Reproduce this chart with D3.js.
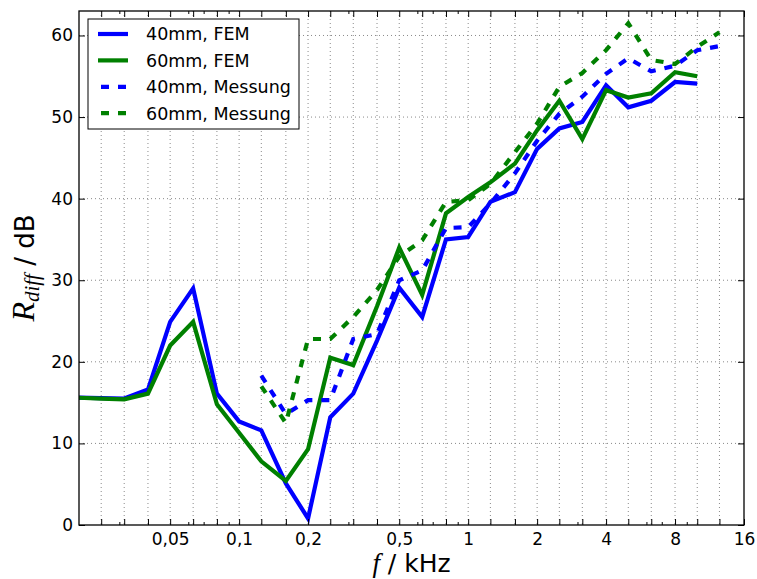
<!DOCTYPE html>
<html>
<head>
<meta charset="utf-8">
<script src="https://cdn.jsdelivr.net/npm/d3@7/dist/d3.min.js"></script>
<style>
  html, body { margin: 0; padding: 0; background: #fff; }
  svg { display: block; }
</style>
</head>
<body>
<svg id="chart" width="757" height="579"></svg>
<script>
// Third-octave band centre frequencies (kHz)
const freqs = [0.02, 0.025, 0.0315, 0.04, 0.05, 0.063, 0.08, 0.1, 0.125, 0.16, 0.2, 0.25, 0.315, 0.4, 0.5, 0.63, 0.8, 1, 1.25, 1.6, 2, 2.5, 3.15, 4, 5, 6.3, 8, 10, 12.5, 16];

// FEM results (0.02 ... 10 kHz)
const fem40 = [15.6, 15.55, 15.5, 16.6, 24.9, 29.0, 16.1, 12.7, 11.6, 5.1, 0.8, 13.2, 16.1, 22.6, 29.1, 25.5, 35.0, 35.3, 39.6, 40.8, 46.1, 48.6, 49.4, 53.9, 51.2, 52.0, 54.3, 54.1];
const fem60 = [15.6, 15.5, 15.4, 16.1, 22.0, 24.9, 14.8, 11.3, 7.8, 5.4, 9.3, 20.5, 19.6, 26.8, 34.0, 28.2, 38.2, 40.2, 42.0, 44.3, 48.4, 52.0, 47.3, 53.3, 52.4, 52.9, 55.5, 55.0];
const femStart = 0;

// Measurements (0.125 ... 12.5 kHz)
const mess40 = [18.3, 13.6, 15.3, 15.3, 22.8, 23.4, 30.0, 31.2, 36.4, 36.5, 39.4, 43.1, 47.1, 50.4, 52.5, 55.3, 57.2, 55.6, 56.3, 58.2, 58.7];
const mess60 = [17.0, 12.5, 22.8, 22.8, 25.5, 28.8, 32.9, 34.9, 39.6, 39.8, 41.8, 45.7, 49.2, 53.7, 55.4, 58.2, 61.5, 57.0, 56.5, 58.6, 60.4];
const messStart = 8;

// Tick labels
const xLabelVals = [0.05, 0.1, 0.2, 0.5, 1, 2, 4, 8, 16];
const xLabelText = ["0,05", "0,1", "0,2", "0,5", "1", "2", "4", "8", "16"];
const xMinorTicks = [0.03, 0.06, 0.07, 0.09, 0.3, 0.6, 0.7, 0.9, 3, 6, 7, 9];
const yTicks = [0, 10, 20, 30, 40, 50, 60];

const seriesNames = ["40mm, FEM", "60mm, FEM", "40mm, Messung", "60mm, Messung"];

const L = 79, R = 744, T = 11, B = 525;
const svg = d3.select("#chart");

const x = d3.scaleLog().domain([0.02, 16]).range([L, R]);
const y = d3.scaleLinear().domain([0, 63]).range([B, T]);

const series = [
  { name: seriesNames[0], vals: fem40, start: femStart, color: "#0000ff", dash: null },
  { name: seriesNames[1], vals: fem60, start: femStart, color: "#008000", dash: null },
  { name: seriesNames[2], vals: mess40, start: messStart, color: "#0000ff", dash: "8,9" },
  { name: seriesNames[3], vals: mess60, start: messStart, color: "#008000", dash: "8,9" }
];

// Grid
const grid = svg.append("g");
freqs.filter(f => f > 0.02 && f < 16).forEach(f => {
  grid.append("line").attr("x1", x(f)).attr("x2", x(f)).attr("y1", T).attr("y2", B)
    .attr("stroke", "#8a8a8a").attr("stroke-width", 1).attr("stroke-dasharray", "1,3");
});
yTicks.filter(v => v > 0).forEach(v => {
  grid.append("line").attr("x1", L).attr("x2", R).attr("y1", y(v)).attr("y2", y(v))
    .attr("stroke", "#8a8a8a").attr("stroke-width", 1).attr("stroke-dasharray", "1,3");
});

// Lines
svg.append("clipPath").attr("id", "clip").append("rect")
  .attr("x", L).attr("y", T).attr("width", R - L).attr("height", B - T);
const lineGen = d3.line().x(d => x(d[0])).y(d => y(d[1]));
const lines = svg.append("g").attr("clip-path", "url(#clip)");
series.forEach(s => {
  const pts = s.vals.map((v, i) => [freqs[s.start + i], v]);
  const p = lines.append("path").datum(pts).attr("d", lineGen)
    .attr("fill", "none").attr("stroke", s.color).attr("stroke-width", 4.2)
    .attr("stroke-linejoin", "miter").attr("stroke-linecap", "butt");
  if (s.dash) p.attr("stroke-dasharray", s.dash);
});

// Axes
const fmtX = f => { const i = xLabelVals.indexOf(f); return i >= 0 ? xLabelText[i] : ""; };
const tickFont = "DejaVu Sans, sans-serif";

const xAxis = svg.append("g").attr("transform", `translate(0,${B})`)
  .call(d3.axisBottom(x).tickValues(freqs.filter(f => f > 0.02)).tickFormat(fmtX)
    .tickSizeInner(-6).tickSizeOuter(0).tickPadding(8));
const xAxisTop = svg.append("g").attr("transform", `translate(0,${T})`)
  .call(d3.axisTop(x).tickValues(freqs.filter(f => f > 0.02)).tickFormat("")
    .tickSizeInner(-6).tickSizeOuter(0));
const xMinB = svg.append("g").attr("transform", `translate(0,${B})`)
  .call(d3.axisBottom(x).tickValues(xMinorTicks).tickFormat("").tickSizeInner(-3).tickSizeOuter(0));
const xMinT = svg.append("g").attr("transform", `translate(0,${T})`)
  .call(d3.axisTop(x).tickValues(xMinorTicks).tickFormat("").tickSizeInner(-3).tickSizeOuter(0));
const yAxis = svg.append("g").attr("transform", `translate(${L},0)`)
  .call(d3.axisLeft(y).tickValues(yTicks).tickFormat(d3.format("d"))
    .tickSizeInner(-6).tickSizeOuter(0).tickPadding(6));
const yAxisR = svg.append("g").attr("transform", `translate(${R},0)`)
  .call(d3.axisRight(y).tickValues(yTicks).tickFormat("").tickSizeInner(-6).tickSizeOuter(0));

[xAxis, xAxisTop, xMinB, xMinT, yAxis, yAxisR].forEach(g => {
  g.select(".domain").remove();
  g.selectAll(".tick line").attr("stroke", "#000").attr("stroke-width", 1);
  g.selectAll("text").attr("font-family", tickFont).attr("font-size", 17).attr("fill", "#000");
});

// Frame
svg.append("rect").attr("x", L).attr("y", T).attr("width", R - L).attr("height", B - T)
  .attr("fill", "none").attr("stroke", "#000").attr("stroke-width", 1.3);

// Axis labels
const xl = svg.append("text").attr("x", (L + R) / 2).attr("y", 572).attr("text-anchor", "middle")
  .attr("font-family", tickFont).attr("font-size", 25).attr("fill", "#000");
xl.append("tspan").attr("font-family", "Liberation Serif, serif").attr("font-style", "italic")
  .attr("font-size", 27).text("f");
xl.append("tspan").text(" / kHz");

const yl = svg.append("text").attr("transform", `translate(34,${(T + B) / 2}) rotate(-90)`)
  .attr("text-anchor", "middle").attr("font-family", tickFont).attr("font-size", 26).attr("fill", "#000");
yl.append("tspan").attr("font-family", "Liberation Serif, serif").attr("font-style", "italic")
  .attr("font-size", 32).text("R");
yl.append("tspan").attr("font-family", "Liberation Serif, serif").attr("font-style", "italic")
  .attr("font-size", 21).attr("dy", 5).text("diff");
yl.append("tspan").attr("dy", -5).text(" / dB");

// Legend
const lg = svg.append("g");
lg.append("rect").attr("x", 88).attr("y", 19).attr("width", 211).attr("height", 110)
  .attr("fill", "#fff").attr("stroke", "#000").attr("stroke-width", 1);
series.forEach((s, i) => {
  const yy = 34 + i * 26.4;
  const l = lg.append("line").attr("x1", 98).attr("x2", 128).attr("y1", yy).attr("y2", yy)
    .attr("stroke", s.color).attr("stroke-width", 4.2);
  if (s.dash) l.attr("stroke-dasharray", s.dash).attr("stroke-dashoffset", -3);
  lg.append("text").attr("x", 146).attr("y", yy).attr("dy", "0.36em")
    .attr("font-family", tickFont).attr("font-size", 17.5).attr("fill", "#000").text(s.name);
});
</script>
</body>
</html>
